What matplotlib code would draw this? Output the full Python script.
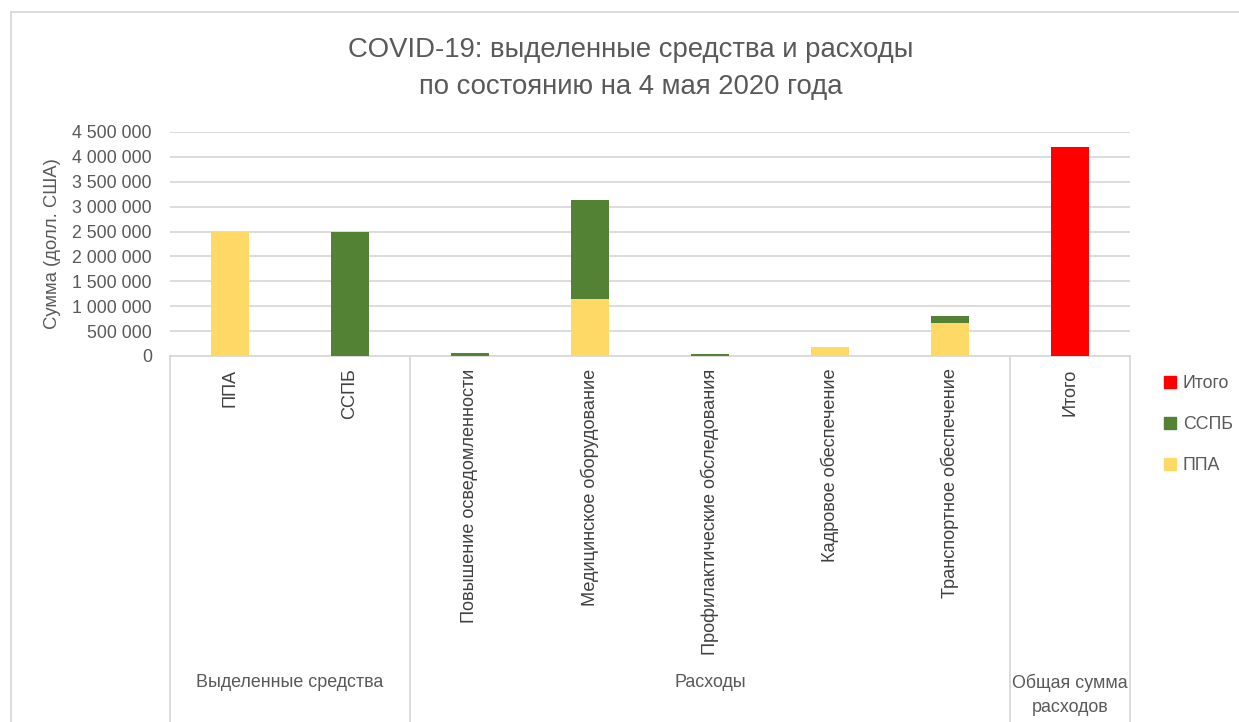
import matplotlib
matplotlib.use("Agg")
import matplotlib.pyplot as plt
from matplotlib.ticker import FuncFormatter, MultipleLocator
from matplotlib.patches import Patch
from matplotlib.lines import Line2D
import matplotlib.transforms as mtransforms
import numpy as np

plt.rcParams['font.family'] = ['Liberation Sans', 'DejaVu Sans']

categories = ["ППА", "ССПБ", "Повышение осведомленности", "Медицинское оборудование",
              "Профилактические обследования", "Кадровое обеспечение",
              "Транспортное обеспечение", "Итого"]
ppa = [2500000, 0, 0, 1140000, 0, 190000, 670000, 0]
sspb = [0, 2500000, 60000, 2000000, 40000, 0, 130000, 0]
itogo = [0, 0, 0, 0, 0, 0, 0, 4190000]

groups = ["Выделенные средства", "Расходы", "Общая сумма\nрасходов"]
group_sizes = [2, 5, 1]

title_lines = ["COVID-19: выделенные средства и расходы", "по состоянию на 4 мая 2020 года"]
ylabel = "Сумма (долл. США)"

C_PPA = "#FFD966"
C_SSPB = "#548235"
C_ITOGO = "#FF0000"
TXT = "#595959"
GRID = "#D9D9D9"

W, H = 1239, 722
fig = plt.figure(figsize=(W / 100, H / 100), dpi=100)
ax = fig.add_axes([170 / W, 1 - 356 / H, 960 / W, 224 / H])

x = np.arange(len(categories))
bw = 0.32
ppa_a = np.array(ppa)
sspb_a = np.array(sspb)
itogo_a = np.array(itogo)
ax.bar(x, ppa_a, bw, color=C_PPA, label="ППА", zorder=3)
ax.bar(x, sspb_a, bw, bottom=ppa_a, color=C_SSPB, label="ССПБ", zorder=3)
ax.bar(x, itogo_a, bw, bottom=ppa_a + sspb_a, color=C_ITOGO, label="Итого", zorder=3)

ax.set_xlim(-0.5, len(categories) - 0.5)
ax.set_ylim(0, 4500000)
ax.yaxis.set_major_locator(MultipleLocator(500000))
ax.yaxis.set_major_formatter(FuncFormatter(lambda v, p: f"{int(v):,}".replace(",", " ")))
ax.grid(axis='y', color=GRID, linewidth=1.3, zorder=0)
for s in ['top', 'right', 'left']:
    ax.spines[s].set_visible(False)
ax.spines['bottom'].set_color(GRID)
ax.spines['bottom'].set_linewidth(1.3)
ax.tick_params(axis='y', length=0, pad=13, labelsize=12.8, labelcolor=TXT)
ax.set_xticks(x)
ax.set_xticklabels(categories, rotation=90, va='top', ha='center')
ax.tick_params(axis='x', length=0, pad=9, labelsize=13.1, labelcolor="#404040")

ax.set_ylabel(ylabel, fontsize=13.3, color=TXT)
ax.yaxis.set_label_coords((61 - 170) / 960, 0.5)

# group separators and labels
trans = mtransforms.blended_transform_factory(ax.transData, ax.transAxes)
bounds = np.concatenate([[0], np.cumsum(group_sizes)]) - 0.5
for b in bounds:
    ax.add_line(Line2D([b, b], [0, -2.0], transform=trans, color=GRID, linewidth=1.3, clip_on=False))
for g, lo, hi in zip(groups, bounds[:-1], bounds[1:]):
    ax.text((lo + hi) / 2, (356 - 674) / 224, g, transform=trans, ha='center', va='top',
            fontsize=12.9, color=TXT, linespacing=1.5)

# legend
handles = [Patch(color=C_ITOGO), Patch(color=C_SSPB), Patch(color=C_PPA)]
fig.legend(handles, ["Итого", "ССПБ", "ППА"], loc='upper left',
           bbox_to_anchor=(1148 / W, 1 - 359 / H), frameon=False, fontsize=12.8,
           labelcolor=TXT, handlelength=0.65, handleheight=0.65, handletextpad=0.4,
           labelspacing=1.35)

# title
fig.text(631 / W, 1 - 50 / H, title_lines[0], ha='center', va='center', fontsize=19.8, color=TXT)
fig.text(631 / W, 1 - 87 / H, title_lines[1], ha='center', va='center', fontsize=19.8, color=TXT)

# chart outer border (left and top edges visible)
fig.add_artist(Line2D([11 / W, 11 / W], [-0.1, 1 - 12 / H], transform=fig.transFigure, color=GRID, linewidth=1.3))
fig.add_artist(Line2D([11 / W, 1.1], [1 - 12 / H, 1 - 12 / H], transform=fig.transFigure, color=GRID, linewidth=1.3))

fig.savefig("out.png", dpi=100, facecolor="white")
